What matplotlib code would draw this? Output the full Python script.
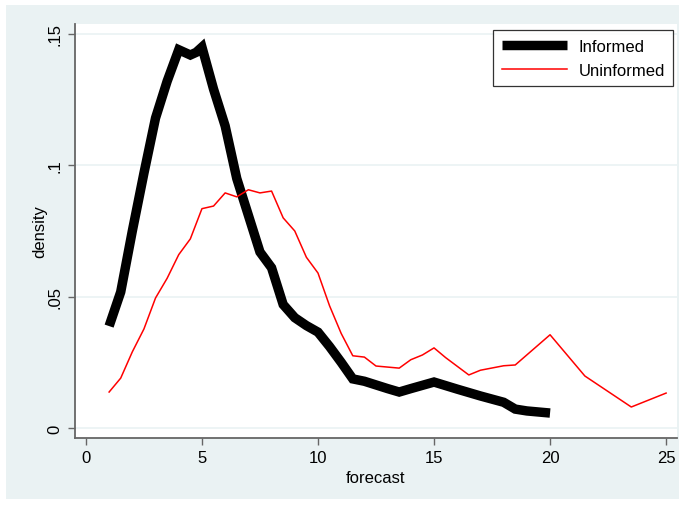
import numpy as np
import matplotlib
matplotlib.use('Agg')
import matplotlib.pyplot as plt
from matplotlib.patches import Rectangle

plt.rcParams['font.family'] = ['Liberation Sans', 'DejaVu Sans']

# kernel density estimates of the forecast, by group
informed_x = [1, 1.5, 2, 2.5, 3, 3.5, 4, 4.25, 4.5, 4.75, 5, 5.5, 6, 6.5, 7,
              7.5, 8, 8.5, 9, 9.5, 10, 10.5, 11, 11.5, 12, 13, 13.5, 14, 15,
              16, 17, 18, 18.5, 19, 20]
informed_y = [0.0388, 0.0518, 0.075, 0.097, 0.118, 0.132, 0.144, 0.143,
              0.142, 0.143, 0.145, 0.129, 0.115, 0.095, 0.081, 0.067, 0.061,
              0.047, 0.042, 0.039, 0.0365, 0.031, 0.025, 0.0187, 0.0178,
              0.015, 0.0137, 0.015, 0.0175, 0.0148, 0.0122, 0.0098, 0.0072,
              0.0065, 0.0057]

uninformed_x = [1, 1.5, 2, 2.5, 3, 3.5, 4, 4.5, 5, 5.5, 6, 6.5, 7, 7.5, 8,
                8.5, 9, 9.5, 10, 10.5, 11, 11.5, 12, 12.5, 13.5, 14, 14.5,
                15, 15.5, 16.5, 17, 18, 18.5, 20, 21.5, 23.5, 25]
uninformed_y = [0.0137, 0.019, 0.029, 0.0377, 0.0495, 0.057, 0.066, 0.072,
                0.0835, 0.0845, 0.0895, 0.088, 0.0907, 0.0895, 0.0902, 0.080,
                0.075, 0.065, 0.059, 0.0465, 0.036, 0.0275, 0.027, 0.0236,
                0.0228, 0.026, 0.0278, 0.0305, 0.0268, 0.0202, 0.022, 0.0237,
                0.024, 0.0355, 0.0198, 0.008, 0.0133]

xticks = [0, 5, 10, 15, 20, 25]
yticks = [0, 0.05, 0.1, 0.15]
ytick_labels = ['0', '.05', '.1', '.15']

W, H = 685, 506
fig = plt.figure(figsize=(W / 100, H / 100), dpi=100, facecolor='white')
fig.patches.append(Rectangle((6 / W, 6 / H), 673 / W, 494 / H,
                             transform=fig.transFigure, facecolor='#eaf2f3',
                             edgecolor='none', zorder=0))

ax = fig.add_axes([75 / W, (H - 439) / H, 602 / W, 414 / H])
ax.set_facecolor('white')
ax.set_zorder(1)

ax.plot(informed_x, informed_y, color='black', lw=6.8,
        solid_joinstyle='miter', solid_capstyle='butt', label='Informed')
ax.plot(uninformed_x, uninformed_y, color='#ff0000', lw=1.1,
        label='Uninformed')

ax.set_xlim(-0.47, 25.47)
ax.set_ylim(-0.0038, 0.1538)
ax.set_xticks(xticks)
ax.set_xticklabels([str(t) for t in xticks])
ax.set_yticks(yticks)
ax.set_yticklabels(ytick_labels, rotation=90, va='center')
ax.tick_params(axis='both', direction='out', length=5, width=1,
               color='#666666', labelsize=12, labelcolor='black', pad=4)

for y in yticks:
    ax.axhline(y, color='#eaf2f3', lw=1.2, zorder=0)

for s in ('top', 'right'):
    ax.spines[s].set_visible(False)
for s in ('left', 'bottom'):
    ax.spines[s].set_color('#666666')
    ax.spines[s].set_linewidth(1.3)

ax.set_xlabel('forecast', fontsize=12, labelpad=3)
ax.set_ylabel('density', fontsize=12, labelpad=0)

leg = ax.legend(loc='upper right', bbox_to_anchor=(0.9935, 0.985),
                fontsize=12, frameon=True, fancybox=False, handlelength=3.9,
                borderpad=0.5, labelspacing=0.55, handletextpad=0.7,
                borderaxespad=0.0)
leg.get_frame().set_edgecolor('black')
leg.get_frame().set_linewidth(0.9)

fig.savefig('out.png', dpi=100, facecolor='white')
